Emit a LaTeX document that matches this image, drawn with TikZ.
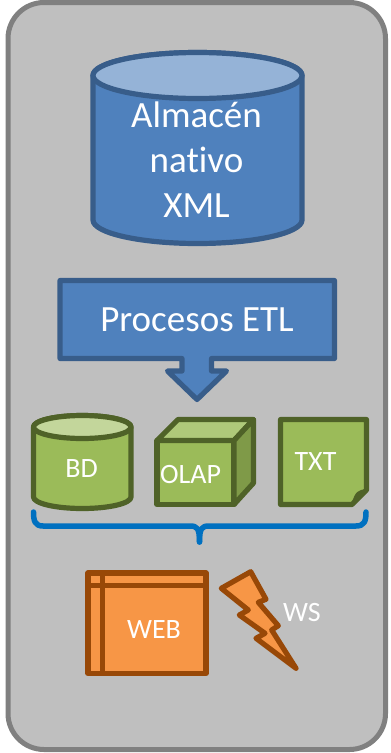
\documentclass[tikz,border=0pt]{standalone}
\usepackage{fontspec}
\setmainfont{Carlito}[Ligatures=NoCommon]
\definecolor{panelfill}{HTML}{BFBFBF}
\definecolor{panelline}{HTML}{808080}
\definecolor{bluefill}{HTML}{4F81BD}
\definecolor{bluetop}{HTML}{95B3D7}
\definecolor{blueline}{HTML}{385D8A}
\definecolor{greenfill}{HTML}{9BBB59}
\definecolor{greentop}{HTML}{AFC97A}
\definecolor{greencyl}{HTML}{C3D69B}
\definecolor{greenside}{HTML}{7F9A48}
\definecolor{greenline}{HTML}{4F6228}
\definecolor{orangefill}{HTML}{F79646}
\definecolor{orangeline}{HTML}{984807}
\definecolor{bracecol}{HTML}{0070C0}
\tikzset{
  bluestyle/.style={draw=blueline,line width=5.2pt,line join=round,fill=bluefill},
  greenstyle/.style={draw=greenline,line width=5.2pt,line join=round,fill=greenfill},
  orangestyle/.style={draw=orangeline,line width=5.2pt,line join=round,fill=orangefill},
  label/.style={text=white,inner sep=0pt,anchor=base},
}
\begin{document}
\begin{tikzpicture}[x=1pt,y=-1pt]
\useasboundingbox (0,0) rectangle (391,753);
% panel
\draw[draw=panelline,fill=panelfill,line width=5pt,rounded corners=36pt] (8,2.5) rectangle (385.5,749.5);
% large cylinder
\draw[bluestyle] (93,75.5) -- (93,220) arc[start angle=180,end angle=0,x radius=104.5,y radius=23.5] -- (302,75.5) arc[start angle=0,end angle=-180,x radius=104.5,y radius=23] -- cycle;
\draw[bluestyle,fill=bluetop] (197.5,75.5) ellipse[x radius=104.5,y radius=23];
\node[label,font=\fontsize{37}{45}\selectfont] (almacen) at (196.5,127) {Almacén};
\node[label,font=\fontsize{37}{45}\selectfont] (nativo) at (196.5,172) {nativo};
\node[label,font=\fontsize{37}{45}\selectfont] (xml) at (196.5,217) {XML};
% callout
\draw[bluestyle] (60,280.5) -- (334.5,280.5) -- (334.5,358.5) -- (211.5,358.5) -- (211.5,371) -- (226.5,371) -- (197,399.5) -- (167.5,371) -- (182,371) -- (182,358.5) -- (60,358.5) -- cycle;
\node[label,font=\fontsize{37}{45}\selectfont] (etl) at (197,331.5) {Procesos ETL};
% BD cylinder
\draw[greenstyle] (33.5,427) -- (33.5,497) arc[start angle=180,end angle=0,x radius=48.75,y radius=11.5] -- (131,427) arc[start angle=0,end angle=-180,x radius=48.75,y radius=11.5] -- cycle;
\draw[greenstyle,fill=greencyl] (82.25,427) ellipse[x radius=48.75,y radius=11.5];
\node[label,font=\fontsize{28}{34}\selectfont] (bd) at (81.5,477) {BD};
% OLAP cube
\draw[greenstyle] (157,440.5) rectangle (234,504.5);
\draw[greenstyle,fill=greentop] (157,440.5) -- (178,419.5) -- (253.5,419.5) -- (234,440.5) -- cycle;
\draw[greenstyle,fill=greenside] (234,440.5) -- (253.5,419.5) -- (253.5,483) -- (234,504.5) -- cycle;
\node[label,font=\fontsize{28}{34}\selectfont] (olap) at (190.5,483) {OLAP};
% TXT note
\draw[greenstyle] (280.5,419.5) -- (366.5,419.5) -- (366.5,490) -- (352,504.5) -- (280.5,504.5) -- cycle;
\draw[greenstyle,fill=greenline,line width=1.5pt] (366.5,490) .. controls (358,490.5) and (356,492) .. (352,504.5) -- cycle;
\node[label,font=\fontsize{28}{34}\selectfont] (txt) at (315.5,470.5) {TXT};
% brace
\draw[bracecol,line width=5.5pt,line cap=round,line join=round] (33.5,512) .. controls (33.5,521) and (35,526) .. (43,526) -- (190,526) .. controls (197,526) and (199.5,528) .. (199.5,542);
\draw[bracecol,line width=5.5pt,line cap=round,line join=round] (366,512) .. controls (366,521) and (364.5,526) .. (356,526) -- (209,526) .. controls (202,526) and (199.5,528) .. (199.5,542);
% WEB window
\draw[orangestyle] (88,573) rectangle (206,673.5);
\draw[orangeline,line width=5pt] (102.7,573) -- (102.7,673.5);
\draw[orangeline,line width=5pt] (88,585.7) -- (206,585.7);
\node[label,font=\fontsize{28}{34}\selectfont] (web) at (154,638) {WEB};
% lightning
\draw[orangestyle] (250.7,571.7) -- (266,599.3) -- (258.3,602.3) -- (278.3,625.7) -- (271.7,630) -- (296,668.3) -- (256,638.3) -- (265,633.3) -- (239.3,615) -- (248.3,610) -- (221.3,588.3) -- cycle;
\node[label,font=\fontsize{28}{34}\selectfont] (ws) at (302,621.5) {WS};
\end{tikzpicture}
\end{document}
